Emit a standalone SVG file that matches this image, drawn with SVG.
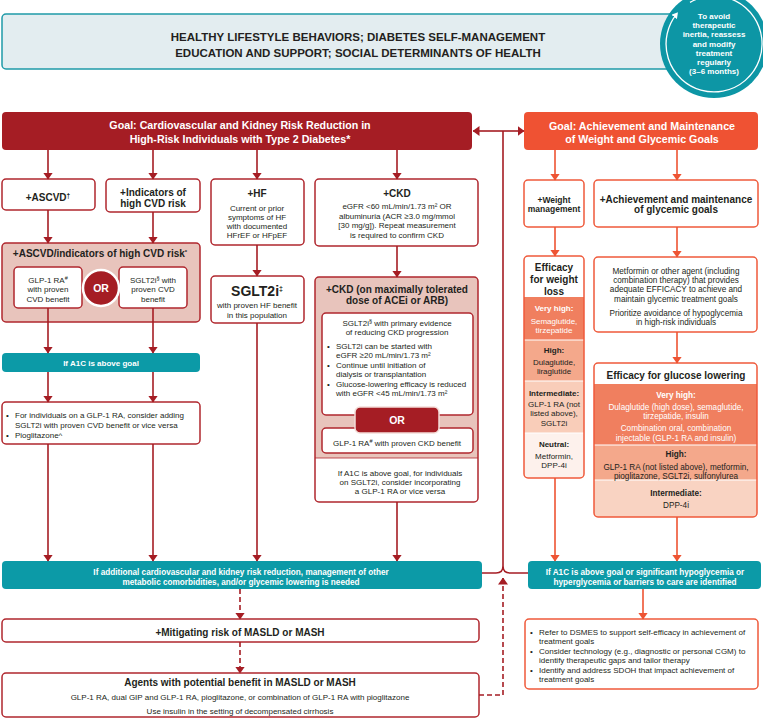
<svg xmlns="http://www.w3.org/2000/svg" width="763" height="723" viewBox="0 0 763 723">
<defs>
<marker id="ar" markerUnits="userSpaceOnUse" markerWidth="7" markerHeight="10" viewBox="0 0 7 10" refX="6.5" refY="5" orient="auto"><path d="M0,0 L7,5 L0,10 z" fill="#a51d24"/></marker>
<marker id="ao" markerUnits="userSpaceOnUse" markerWidth="7" markerHeight="10" viewBox="0 0 7 10" refX="6.5" refY="5" orient="auto"><path d="M0,0 L7,5 L0,10 z" fill="#ee5433"/></marker>
<marker id="aw" markerUnits="userSpaceOnUse" markerWidth="6" markerHeight="7" viewBox="0 0 6 7" refX="4" refY="3.5" orient="auto"><path d="M0,0 L6,3.5 L0,7 z" fill="#fff"/></marker>
<clipPath id="cw"><rect x="524" y="256" width="60" height="222" rx="4"/></clipPath>
<clipPath id="cg"><rect x="594" y="363" width="163" height="154" rx="4"/></clipPath>
</defs>
<style>
text{font-family:"Liberation Sans",Arial,sans-serif;fill:#231f20;font-size:8px}
.c{text-anchor:middle}
.b{font-weight:bold}
.w{fill:#fff}
.rb{fill:#fff;stroke:#b0272e;stroke-width:1.5}
.pk{fill:#e8c4bc;stroke:#b0272e;stroke-width:1.5}
.ob{fill:#fff;stroke:#ef5a3b;stroke-width:1.5}
.oo{fill:none;stroke:#ef5a3b;stroke-width:1.5}
.tl{fill:#0c9aa7}
.cr{fill:none;stroke:#a51d24;stroke-width:1.6}
.co{fill:none;stroke:#ee5433;stroke-width:1.6}
.d{stroke-dasharray:5 3}
.h10{font-size:10px;font-weight:bold}
.h{font-size:10.7px;font-weight:bold;fill:#fff}
.bar{font-size:8.2px;font-weight:bold;fill:#fff}
.r8{font-size:8.2px}
</style>

<g id="banner">
<rect x="2" y="14" width="690" height="55" rx="4" fill="#e3edf0" stroke="#1f9aa8" stroke-width="1.5"/>
<text class="c b" x="358" y="41" style="font-size:11.5px">HEALTHY LIFESTYLE BEHAVIORS; DIABETES SELF-MANAGEMENT</text>
<text class="c b" x="358" y="57" style="font-size:11.5px">EDUCATION AND SUPPORT; SOCIAL DETERMINANTS OF HEALTH</text>
</g>

<g id="reassess">
<circle cx="714" cy="44" r="54" fill="#0d96a5"/>
<path d="M690,2.4 A48 48 0 1 1 676.7,13.8" fill="none" stroke="#fff" stroke-width="1.3" marker-end="url(#aw)"/>
<text class="c b w" x="714" y="19">To avoid</text>
<text class="c b w" x="714" y="28">therapeutic</text>
<text class="c b w" x="714" y="37">inertia, reassess</text>
<text class="c b w" x="714" y="46.5">and modify</text>
<text class="c b w" x="714" y="56">treatment</text>
<text class="c b w" x="714" y="65">regularly</text>
<text class="c b w" x="714" y="74">(3–6 months)</text>
</g>

<g id="goal-cvd">
<rect x="2" y="112" width="470" height="38" rx="4" fill="#a51d24"/>
<text class="c h" x="240" y="129">Goal: Cardiovascular and Kidney Risk Reduction in</text>
<text class="c h" x="240" y="143">High-Risk Individuals with Type 2 Diabetes*</text>
</g>

<g id="goal-glyc">
<rect x="524" y="112" width="234" height="38" rx="4" fill="#ef5233"/>
<text class="c h" x="642" y="129.5">Goal: Achievement and Maintenance</text>
<text class="c h" x="642" y="143">of Weight and Glycemic Goals</text>
</g>

<g id="ascvd">
<rect class="rb" x="2" y="179" width="93" height="31" rx="4"/>
<text class="c h10" x="48" y="201">+ASCVD<tspan font-size="6.5" dy="-3">†</tspan></text>
</g>

<g id="cvd-risk">
<rect class="rb" x="106" y="179" width="94" height="33" rx="4"/>
<text class="c h10" x="153" y="196">+Indicators of</text>
<text class="c h10" x="153" y="207">high CVD risk</text>
</g>

<g id="hf">
<rect class="rb" x="211" y="179" width="93" height="66" rx="4"/>
<text class="c h10" x="257" y="197">+HF</text>
<text class="c" x="257" y="211">Current or prior</text>
<text class="c" x="257" y="220">symptoms of HF</text>
<text class="c" x="257" y="229">with documented</text>
<text class="c" x="257" y="238">HFrEF or HFpEF</text>
</g>

<g id="ckd">
<rect class="rb" x="315" y="179" width="163" height="67" rx="4"/>
<text class="c h10" x="397" y="197">+CKD</text>
<text class="c" x="397" y="209">eGFR &lt;60 mL/min/1.73 m² OR</text>
<text class="c" x="397" y="218.5">albuminuria (ACR ≥3.0 mg/mmol</text>
<text class="c" x="397" y="228">[30 mg/g]). Repeat measurement</text>
<text class="c" x="397" y="237.5">is required to confirm CKD</text>
</g>

<g id="ascvd-tx">
<rect class="pk" x="2" y="243" width="198" height="79" rx="4"/>
<text class="c h10" x="100" y="257">+ASCVD/indicators of high CVD risk<tspan font-size="6" dy="-3">*</tspan></text>
<rect class="rb" x="14" y="267" width="68" height="41" rx="4"/>
<text class="c" x="48" y="283">GLP-1 RA<tspan font-size="5.5" dy="-3">#</tspan></text>
<text class="c" x="48" y="292">with proven</text>
<text class="c" x="48" y="302">CVD benefit</text>
<rect class="rb" x="119" y="267" width="68" height="41" rx="4"/>
<text class="c" x="153" y="283">SGLT2i<tspan font-size="5.5" dy="-3">§</tspan><tspan dy="3"> with</tspan></text>
<text class="c" x="153" y="292">proven CVD</text>
<text class="c" x="153" y="302">benefit</text>
<circle cx="101" cy="288" r="18" fill="#a51d24" stroke="#fff" stroke-width="2.5"/>
<text class="c b w" x="101" y="292" style="font-size:10.5px">OR</text>
</g>

<g id="sglt2-hf">
<rect class="rb" x="211" y="276" width="93" height="47" rx="4"/>
<text class="c b" x="257" y="296" style="font-size:14px">SGLT2i<tspan font-size="7" dy="-5">‡</tspan></text>
<text class="c" x="257" y="308">with proven HF benefit</text>
<text class="c" x="257" y="318">in this population</text>
</g>

<g id="ckd-tx">
<rect x="315" y="277" width="163" height="225" rx="4" fill="#fff"/>
<path d="M315,458 V281 Q315,277 319,277 H474 Q478,277 478,281 V458 Z" fill="#e8c4bc"/>
<line x1="315" y1="458" x2="478" y2="458" stroke="#b0272e" stroke-width="0.8"/>
<rect x="315" y="277" width="163" height="225" rx="4" fill="none" stroke="#b0272e" stroke-width="1.5"/>
<text class="c h10" x="397" y="293">+CKD (on maximally tolerated</text>
<text class="c h10" x="397" y="304">dose of ACEi or ARB)</text>
<rect class="rb" x="322" y="313" width="151" height="102" rx="4"/>
<text class="c" x="397" y="326">SGLT2i<tspan font-size="5.5" dy="-3">§</tspan><tspan dy="3"> with primary evidence</tspan></text>
<text class="c" x="397" y="334.5">of reducing CKD progression</text>
<text x="327" y="349">•</text><text x="336" y="349">SGLT2i can be started with</text>
<text x="336" y="358">eGFR ≥20 mL/min/1.73 m²</text>
<text x="327" y="368">•</text><text x="336" y="368">Continue until initiation of</text>
<text x="336" y="377">dialysis or transplantation</text>
<text x="327" y="387">•</text><text x="336" y="387">Glucose-lowering efficacy is reduced</text>
<text x="336" y="396">with eGFR &lt;45 mL/min/1.73 m²</text>
<rect class="rb" x="322" y="428" width="151" height="25" rx="4"/>
<text class="c" x="397" y="446">GLP-1 RA<tspan font-size="5.5" dy="-3">#</tspan><tspan dy="3"> with proven CKD benefit</tspan></text>
<rect x="355" y="407" width="84" height="26" rx="5" fill="#a51d24" stroke="#f3dcd7" stroke-width="1.5"/>
<text class="c b w" x="397" y="424" style="font-size:10.5px">OR</text>
<text class="c" x="400" y="476">If A1C is above goal, for individuals</text>
<text class="c" x="400" y="485">on SGLT2i, consider incorporating</text>
<text class="c" x="400" y="494">a GLP-1 RA or vice versa</text>
</g>

<g id="a1c-goal">
<rect class="tl" x="2" y="353" width="198" height="19" rx="4"/>
<text class="c b w" x="101" y="366">If A1C is above goal</text>
</g>

<g id="add-on">
<rect class="rb" x="2" y="402" width="198" height="42" rx="4"/>
<text x="6" y="418">•</text><text x="15" y="418">For individuals on a GLP-1 RA, consider adding</text>
<text x="15" y="428">SGLT2i with proven CVD benefit or vice versa</text>
<text x="6" y="438">•</text><text x="15" y="438">Pioglitazone^</text>
</g>

<g id="additional">
<rect class="tl" x="2" y="561" width="480" height="28" rx="4"/>
<text class="c bar" x="241" y="575">If additional cardiovascular and kidney risk reduction, management of other</text>
<text class="c bar" x="241" y="585">metabolic comorbidities, and/or glycemic lowering is needed</text>
</g>

<g id="hypo">
<rect class="tl" x="528" y="561" width="233" height="28" rx="4"/>
<text class="c bar" x="645" y="575">If A1C is above goal or significant hypoglycemia or</text>
<text class="c bar" x="645" y="585">hyperglycemia or barriers to care are identified</text>
</g>

<g id="masld">
<rect class="rb" x="2" y="619" width="477" height="23" rx="4"/>
<text class="c h10" x="240" y="636">+Mitigating risk of MASLD or MASH</text>
</g>

<g id="agents">
<rect class="rb" x="2" y="673" width="477" height="44" rx="4"/>
<text class="c h10" x="240" y="686">Agents with potential benefit in MASLD or MASH</text>
<text class="c" x="240" y="700">GLP-1 RA, dual GIP and GLP-1 RA, pioglitazone, or combination of GLP-1 RA with pioglitazone</text>
<text class="c" x="240" y="714">Use insulin in the setting of decompensated cirrhosis</text>
</g>

<g id="weight">
<rect class="ob" x="524" y="180" width="60" height="47" rx="4"/>
<text class="c b" x="554" y="203" style="font-size:8.5px">+Weight</text>
<text class="c b" x="554" y="212" style="font-size:8.5px">management</text>
</g>

<g id="glyc-goals">
<rect class="ob" x="594" y="180" width="164" height="47" rx="4"/>
<text class="c h10" x="676" y="203">+Achievement and maintenance</text>
<text class="c h10" x="676" y="213">of glycemic goals</text>
</g>

<g id="weight-eff">
<rect x="524" y="256" width="60" height="222" rx="4" fill="#fff"/>
<g clip-path="url(#cw)">
<rect x="524" y="297" width="60" height="43" fill="#f07f5f"/>
<rect x="524" y="340" width="60" height="41" fill="#f4a88b"/>
<rect x="524" y="381" width="60" height="52" fill="#f9cdb9"/>
<rect x="524" y="433" width="60" height="45" fill="#fdf1ec"/>
<path d="M524,340 H584 M524,381 H584 M524,433 H584" stroke="#fff" stroke-width="1.2"/>
</g>
<rect class="oo" x="524" y="256" width="60" height="222" rx="4"/>
<text class="c h10" x="554" y="271">Efficacy</text>
<text class="c h10" x="554" y="283">for weight</text>
<text class="c h10" x="554" y="295">loss</text>
<text class="c b w" x="554" y="311">Very high:</text>
<text class="c w" x="554" y="324">Semaglutide,</text>
<text class="c w" x="554" y="333">tirzepatide</text>
<text class="c b" x="554" y="353">High:</text>
<text class="c" x="554" y="365">Dulaglutide,</text>
<text class="c" x="554" y="374">liraglutide</text>
<text class="c b" x="554" y="396">Intermediate:</text>
<text class="c" x="554" y="407">GLP-1 RA (not</text>
<text class="c" x="554" y="416">listed above),</text>
<text class="c" x="554" y="426">SGLT2i</text>
<text class="c b" x="554" y="447">Neutral:</text>
<text class="c" x="554" y="459">Metformin,</text>
<text class="c" x="554" y="468">DPP-4i</text>
</g>

<g id="metformin">
<rect class="ob" x="594" y="257" width="163" height="75" rx="4"/>
<text class="c r8" x="676" y="273.5">Metformin or other agent (including</text>
<text class="c r8" x="676" y="283">combination therapy) that provides</text>
<text class="c r8" x="676" y="292">adequate EFFICACY to achieve and</text>
<text class="c r8" x="676" y="301.5">maintain glycemic treatment goals</text>
<text class="c r8" x="676" y="315.5">Prioritize avoidance of hypoglycemia</text>
<text class="c r8" x="676" y="325">in high-risk individuals</text>
</g>

<g id="glucose-eff">
<rect x="594" y="363" width="163" height="154" rx="4" fill="#fff"/>
<g clip-path="url(#cg)">
<rect x="594" y="384" width="163" height="61" fill="#f07f5f"/>
<rect x="594" y="445" width="163" height="35" fill="#f4a88b"/>
<rect x="594" y="480" width="163" height="37" fill="#f9d3c2"/>
<path d="M594,445 H757 M594,480 H757" stroke="#fff" stroke-width="1.2"/>
</g>
<rect class="oo" x="594" y="363" width="163" height="154" rx="4"/>
<text class="c h10" x="676" y="379">Efficacy for glucose lowering</text>
<text class="c b w r8" x="676" y="398">Very high:</text>
<text class="c w r8" x="676" y="410">Dulaglutide (high dose), semaglutide,</text>
<text class="c w r8" x="676" y="418.5">tirzepatide, insulin</text>
<text class="c w r8" x="676" y="431">Combination oral, combination</text>
<text class="c w r8" x="676" y="441">injectable (GLP-1 RA and insulin)</text>
<text class="c b r8" x="676" y="457">High:</text>
<text class="c r8" x="676" y="470">GLP-1 RA (not listed above), metformin,</text>
<text class="c r8" x="676" y="479">pioglitazone, SGLT2i, sulfonylurea</text>
<text class="c b r8" x="676" y="496">Intermediate:</text>
<text class="c r8" x="676" y="508">DPP-4i</text>
</g>

<g id="support">
<rect class="ob" x="525" y="619" width="233" height="70" rx="4"/>
<text x="530" y="635">•</text><text x="539" y="635">Refer to DSMES to support self-efficacy in achievement of</text>
<text x="539" y="644">treatment goals</text>
<text x="530" y="654">•</text><text x="539" y="654">Consider technology (e.g., diagnostic or personal CGM) to</text>
<text x="539" y="663">identify therapeutic gaps and tailor therapy</text>
<text x="530" y="673">•</text><text x="539" y="673">Identify and address SDOH that impact achievement of</text>
<text x="539" y="682">treatment goals</text>
</g>

<g id="connectors">
<path class="cr" d="M48,150 V179" marker-end="url(#ar)"/>
<path class="cr" d="M153,150 V179" marker-end="url(#ar)"/>
<path class="cr" d="M257,150 V179" marker-end="url(#ar)"/>
<path class="cr" d="M397,150 V179" marker-end="url(#ar)"/>
<path class="cr" d="M48,210 V243" marker-end="url(#ar)"/>
<path class="cr" d="M153,212 V243" marker-end="url(#ar)"/>
<path class="cr" d="M257,245 V276" marker-end="url(#ar)"/>
<path class="cr" d="M397,246 V277" marker-end="url(#ar)"/>
<path class="cr" d="M48,308 V353" marker-end="url(#ar)"/>
<path class="cr" d="M153,308 V353" marker-end="url(#ar)"/>
<path class="cr" d="M48,372 V402" marker-end="url(#ar)"/>
<path class="cr" d="M153,372 V402" marker-end="url(#ar)"/>
<path class="cr" d="M48,444 V561" marker-end="url(#ar)"/>
<path class="cr" d="M153,444 V561" marker-end="url(#ar)"/>
<path class="cr" d="M257,323 V561" marker-end="url(#ar)"/>
<path class="cr" d="M397,502 V561" marker-end="url(#ar)"/>
<path class="cr" d="M503,131 H473" marker-end="url(#ar)"/>
<path class="cr" d="M503,131 H524" marker-end="url(#ar)"/>
<path class="cr" d="M503,131 V566 Q503,573 496,573 H482 M503,566 Q503,573 510,573 H528"/>
<path class="cr d" d="M240,589 V619" marker-end="url(#ar)"/>
<path class="cr d" d="M240,642 V673" marker-end="url(#ar)"/>
<path class="cr d" d="M479,695 H503 V578" marker-end="url(#ar)"/>
<path class="co" d="M555,150 V180" marker-end="url(#ao)"/>
<path class="co" d="M677,150 V180" marker-end="url(#ao)"/>
<path class="co" d="M555,227 V256" marker-end="url(#ao)"/>
<path class="co" d="M677,227 V257" marker-end="url(#ao)"/>
<path class="co" d="M677,332 V363" marker-end="url(#ao)"/>
<path class="co" d="M555,478 V561" marker-end="url(#ao)"/>
<path class="co" d="M677,517 V561" marker-end="url(#ao)"/>
<path class="co" d="M643,589 V619" marker-end="url(#ao)"/>
</g>
</svg>
